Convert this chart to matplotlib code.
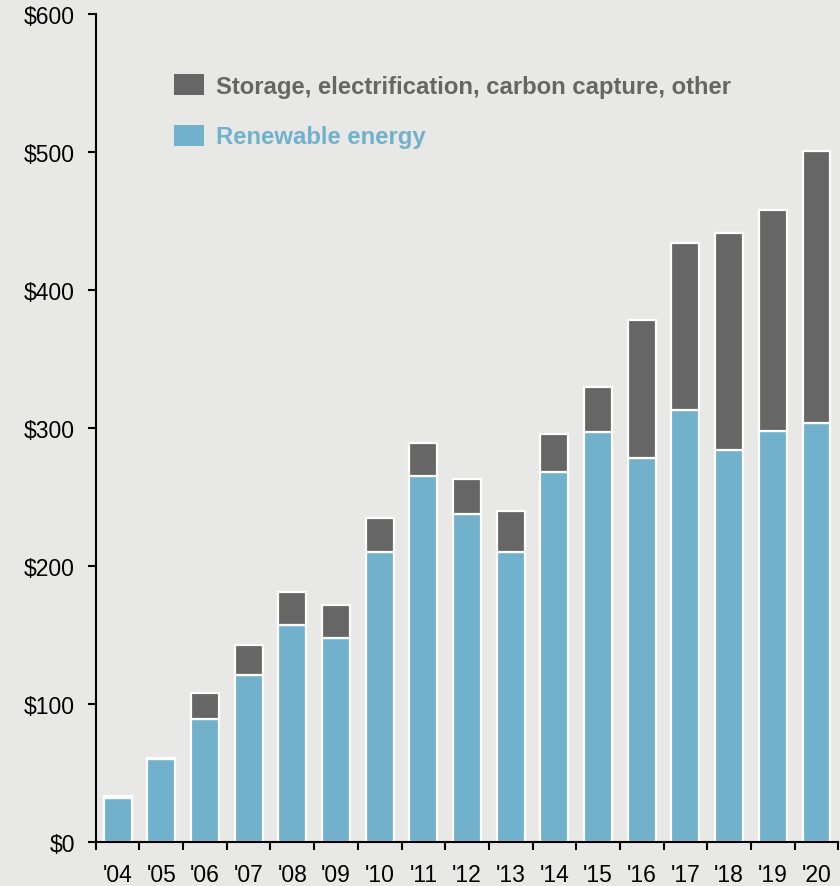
import numpy as np
import matplotlib.pyplot as plt
from matplotlib.patches import Patch

# investment, $bn
years = ["'04", "'05", "'06", "'07", "'08", "'09", "'10", "'11", "'12",
         "'13", "'14", "'15", "'16", "'17", "'18", "'19", "'20"]
renewable = [32, 60, 89, 121, 157, 148, 210, 265, 238, 210, 268, 297, 278, 313, 284, 298, 304]
other = [1, 1, 19, 22, 24, 24, 25, 24, 25, 30, 28, 33, 100, 121, 157, 160, 197]

blue = "#72b1cb"
grey = "#666666"
bg = "#e8e8e6"

plt.rcParams['font.family'] = ['Liberation Sans', 'DejaVu Sans']

fig = plt.figure(figsize=(8.4, 8.87), dpi=100, facecolor=bg)
ax = fig.add_axes([0.114, 0.0496, 0.884, 0.9334], facecolor=bg)

x = np.arange(len(years))
ax.bar(x, renewable, width=0.64, color=blue, edgecolor="white", linewidth=1.6)
ax.bar(x, other, bottom=renewable, width=0.64, color=grey, edgecolor="white", linewidth=1.6)

ax.set_xlim(-0.5, len(years) - 0.5)
ax.set_ylim(0, 600)
ax.set_yticks(range(0, 601, 100))
ax.set_yticklabels([f"${v}" for v in range(0, 601, 100)])
ax.set_xticks(x)
ax.set_xticklabels(years)
ax.set_xticks(np.arange(-0.5, len(years)), minor=True)

ax.tick_params(axis="x", which="major", length=0, pad=15, labelsize=16.5)
ax.tick_params(axis="x", which="minor", length=6, width=1.5, direction="out")
ax.tick_params(axis="y", length=6, width=1.5, pad=9, labelsize=16.5)

for s in ["top", "right"]:
    ax.spines[s].set_visible(False)
for s in ["left", "bottom"]:
    ax.spines[s].set_linewidth(1.5)

handles = [Patch(facecolor=grey), Patch(facecolor=blue)]
ax.legend(handles, ["Storage, electrification, carbon capture, other", "Renewable energy"],
          loc="upper left", bbox_to_anchor=(0.077, 0.953), frameon=False,
          labelcolor=[grey, blue], prop={"weight": "bold", "size": 17.2},
          handlelength=1.22, handleheight=0.96, handletextpad=0.5, labelspacing=1.12)

fig.savefig("out.png", dpi=100, facecolor=bg)
